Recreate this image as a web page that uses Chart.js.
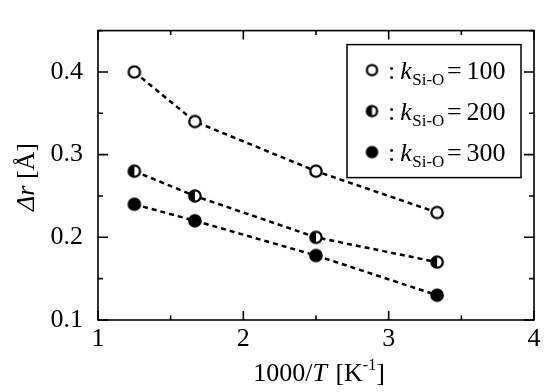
<!DOCTYPE html>
<html>
<head>
<meta charset="utf-8">
<script src="https://cdn.jsdelivr.net/npm/chart.js@4.4.1/dist/chart.umd.min.js"></script>
<style>
  html, body { margin: 0; padding: 0; background: #fff; }
</style>
</head>
<body>
<canvas id="chart" width="550" height="392"></canvas>
<script>
// 1000/T [K^-1]
var invT = [1.25, 1.667, 2.5, 3.333];
// delta r [A] for each k_Si-O
var dr100 = [0.40, 0.34, 0.28, 0.23];
var dr200 = [0.28, 0.25, 0.20, 0.17];
var dr300 = [0.24, 0.22, 0.178, 0.13];
var kValues = ['100', '200', '300'];
var xTicks = [1, 2, 3, 4];
var yTicks = [0.1, 0.2, 0.3, 0.4];

var SERIF = '"Liberation Serif", "Times New Roman", serif';

function marker(kind, r) {
  var s = Math.ceil(r * 2 + 4);
  var c = document.createElement('canvas');
  c.width = s; c.height = s;
  var g = c.getContext('2d');
  var m = s / 2;
  g.lineWidth = 2.3;
  g.strokeStyle = '#000';
  g.beginPath();
  g.arc(m, m, r - 1.1, 0, Math.PI * 2);
  g.fillStyle = kind == 'full' ? '#000' : '#fff';
  g.fill();
  if (kind == 'half') {
    g.beginPath();
    g.arc(m, m, r - 1.1, Math.PI / 2, Math.PI * 1.5);
    g.closePath();
    g.fillStyle = '#000';
    g.fill();
  }
  g.beginPath();
  g.arc(m, m, r - 1.1, 0, Math.PI * 2);
  g.stroke();
  return c;
}

var kinds = ['open', 'half', 'full'];
var markers = kinds.map(function(k) { return marker(k, 6.8); });
var legendMarkers = kinds.map(function(k) { return marker(k, 6.2); });

function pts(ys) {
  return ys.map(function(y, i) { return { x: invT[i], y: y }; });
}

var series = [dr100, dr200, dr300];
var datasets = series.map(function(ys, i) {
  return {
    label: 'k = ' + kValues[i],
    data: pts(ys),
    borderColor: '#000',
    borderWidth: 2.5,
    borderDash: [5, 4],
    pointStyle: markers[i],
    pointRadius: 6,
    showLine: true,
    fill: false
  };
});

function textRun(ctx, parts, x, y) {
  parts.forEach(function(p) {
    ctx.font = p.font;
    x += (p.dx || 0);
    ctx.fillText(p.t, x, y + (p.dy || 0));
    x += ctx.measureText(p.t).width;
  });
  return x;
}
function runWidth(ctx, parts) {
  var w = 0;
  parts.forEach(function(p) { ctx.font = p.font; w += ctx.measureText(p.t).width + (p.dx || 0); });
  return w;
}

var frame = {
  id: 'frame',
  afterDraw: function(chart) {
    var ctx = chart.ctx, a = chart.chartArea;
    var xs = chart.scales.x, ys = chart.scales.y;
    ctx.save();
    ctx.strokeStyle = '#000';
    ctx.fillStyle = '#000';
    ctx.lineWidth = 1.6;
    ctx.strokeRect(a.left, a.top, a.right - a.left, a.bottom - a.top);

    // inward ticks on all four sides
    ctx.beginPath();
    for (var v = 1; v <= 4.001; v += 0.5) {
      var px = xs.getPixelForValue(v);
      var len = Math.abs(v - Math.round(v)) < 1e-6 ? 9 : 4.5;
      ctx.moveTo(px, a.bottom); ctx.lineTo(px, a.bottom - len);
      ctx.moveTo(px, a.top); ctx.lineTo(px, a.top + len);
    }
    for (var w = 0.1; w <= 0.451; w += 0.05) {
      var py = ys.getPixelForValue(w);
      var major = Math.abs(w * 10 - Math.round(w * 10)) < 1e-6;
      var l2 = major ? 10 : 5;
      ctx.moveTo(a.left, py); ctx.lineTo(a.left + l2, py);
      ctx.moveTo(a.right, py); ctx.lineTo(a.right - l2, py);
    }
    ctx.stroke();

    var big = '26px ' + SERIF, it = 'italic 26px ' + SERIF;

    // x axis title: 1000/T [K-1]
    var xParts = [
      { t: '1000/', font: big },
      { t: 'T', font: it },
      { t: ' [K', font: big, dx: 2 },
      { t: '-1', font: '16px ' + SERIF, dy: -11 },
      { t: ']', font: big }
    ];
    ctx.textBaseline = 'alphabetic';
    ctx.textAlign = 'left';
    var xw = runWidth(ctx, xParts);
    textRun(ctx, xParts, (a.left + a.right) / 2 - xw / 2 + 3, 381);

    // y axis title: Δr [Å]
    var yParts = [
      { t: '\u0394r', font: it },
      { t: ' [\u00C5]', font: big }
    ];
    var yw = runWidth(ctx, yParts);
    ctx.save();
    ctx.translate(34, 177);
    ctx.rotate(-Math.PI / 2);
    textRun(ctx, yParts, -yw / 2, 0);
    ctx.restore();

    // legend box
    var bx = a.right - 187, by = a.top + 14, bw = 174, bh = 133;
    ctx.lineWidth = 1.5;
    ctx.strokeRect(bx, by, bw, bh);
    kValues.forEach(function(k, i) {
      var cy = by + 25.5 + i * 41;
      var img = legendMarkers[i];
      ctx.drawImage(img, bx + 25 - img.width / 2, cy - img.height / 2);
      textRun(ctx, [
        { t: ':', font: big },
        { t: 'k', font: it, dx: 5 },
        { t: 'Si-O', font: '17px ' + SERIF, dx: 0.5, dy: 6 },
        { t: '=', font: big, dx: 2.5 },
        { t: k, font: big, dx: 5 }
      ], bx + 41, cy + 9);
    });
    ctx.restore();
  }
};

new Chart(document.getElementById('chart').getContext('2d'), {
  type: 'scatter',
  data: { datasets: datasets },
  options: {
    responsive: false,
    animation: false,
    layout: { padding: { top: 9, right: 16, left: 0, bottom: 0 } },
    plugins: { legend: { display: false }, tooltip: { enabled: false } },
    scales: {
      x: {
        type: 'linear', min: 1, max: 4,
        afterBuildTicks: function(s) { s.ticks = xTicks.map(function(v) { return { value: v }; }); },
        afterFit: function(s) { s.height = 72; },
        grid: { display: false, drawTicks: false },
        border: { display: false },
        ticks: {
          padding: 4, color: '#000',
          font: { family: SERIF, size: 26 },
          callback: function(v) { return String(v); }
        }
      },
      y: {
        type: 'linear', min: 0.1, max: 0.45,
        afterBuildTicks: function(s) { s.ticks = yTicks.map(function(v) { return { value: v }; }); },
        afterFit: function(s) { s.width = 98; },
        grid: { display: false, drawTicks: false },
        border: { display: false },
        ticks: {
          padding: 15, color: '#000',
          font: { family: SERIF, size: 26 },
          callback: function(v) { return v.toFixed(1); }
        }
      }
    }
  },
  plugins: [frame]
});
</script>
</body>
</html>
